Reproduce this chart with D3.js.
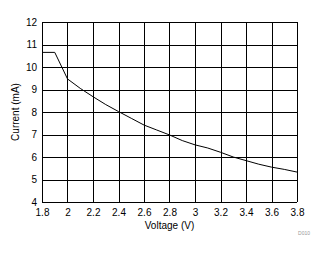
<!DOCTYPE html>
<html>
<head>
<style>
  body { margin: 0; background: #fff; }
  text { font-family: "Liberation Sans", Arial, sans-serif; }
</style>
</head>
<body>
<script src="https://cdnjs.cloudflare.com/ajax/libs/d3/7.8.5/d3.min.js"></script>
<script>
var voltage = [1.8, 1.9, 2.0, 2.1, 2.2, 2.3, 2.4, 2.5, 2.6, 2.7, 2.8, 2.9, 3.0, 3.1, 3.2, 3.3, 3.4, 3.5, 3.6, 3.7, 3.8];
var current = [10.65, 10.65, 9.47, 9.05, 8.68, 8.33, 8.02, 7.72, 7.42, 7.2, 6.98, 6.73, 6.54, 6.4, 6.21, 6.0, 5.84, 5.68, 5.55, 5.45, 5.33];
var xTicks = [1.8, 2, 2.2, 2.4, 2.6, 2.8, 3, 3.2, 3.4, 3.6, 3.8];
var yTicks = [4, 5, 6, 7, 8, 9, 10, 11, 12];

var margin = {top: 22, right: 28, bottom: 52, left: 42},
    width = 325 - margin.left - margin.right,
    height = 254 - margin.top - margin.bottom;

var svg = d3.select("body").append("svg")
    .attr("width", 325)
    .attr("height", 254);

var g = svg.append("g")
    .attr("transform", "translate(" + margin.left + "," + margin.top + ")");

var x = d3.scaleLinear().domain([1.8, 3.8]).range([0, width]);
var y = d3.scaleLinear().domain([4, 12]).range([height, 0]);

// grid
g.selectAll(".vgrid").data(xTicks).enter().append("line")
    .attr("x1", function(d) { return Math.round(x(d)) + 0.5; })
    .attr("x2", function(d) { return Math.round(x(d)) + 0.5; })
    .attr("y1", 0).attr("y2", height)
    .style("stroke", "#000").style("stroke-width", 1);

g.selectAll(".hgrid").data(yTicks).enter().append("line")
    .attr("y1", function(d) { return Math.round(y(d)) + 0.5; })
    .attr("y2", function(d) { return Math.round(y(d)) + 0.5; })
    .attr("x1", 0).attr("x2", width)
    .style("stroke", "#000").style("stroke-width", 1);

// axes labels
var xAxis = d3.axisBottom(x).tickValues(xTicks).tickSize(0).tickPadding(7)
    .tickFormat(function(d) { return d3.format("")(+d.toFixed(1)); });
var yAxis = d3.axisLeft(y).tickValues(yTicks).tickSize(0).tickPadding(5);

var xa = g.append("g").attr("transform", "translate(0," + height + ")").call(xAxis);
var ya = g.append("g").call(yAxis);
[xa, ya].forEach(function(a) {
  a.select(".domain").remove();
  a.selectAll("text").style("font-size", "10px").style("fill", "#000")
    .style("font-family", "'Liberation Sans', Arial, sans-serif");
});

// data line
var line = d3.line()
    .x(function(d, i) { return x(voltage[i]); })
    .y(function(d) { return y(d); });

g.append("path")
    .datum(current)
    .attr("d", line)
    .style("fill", "none")
    .style("stroke", "#000")
    .style("stroke-width", 1);

// titles
svg.append("text")
    .attr("x", margin.left + width / 2)
    .attr("y", 229)
    .attr("text-anchor", "middle")
    .style("font-size", "10px")
    .text("Voltage (V)");

svg.append("text")
    .attr("transform", "translate(19," + (margin.top + height / 2) + ") rotate(-90)")
    .attr("text-anchor", "middle")
    .style("font-size", "10px")
    .text("Current (mA)");

svg.append("text")
    .attr("x", 310)
    .attr("y", 235)
    .attr("text-anchor", "end")
    .style("font-size", "5px")
    .style("fill", "#999")
    .text("D010");
</script>
</body>
</html>
